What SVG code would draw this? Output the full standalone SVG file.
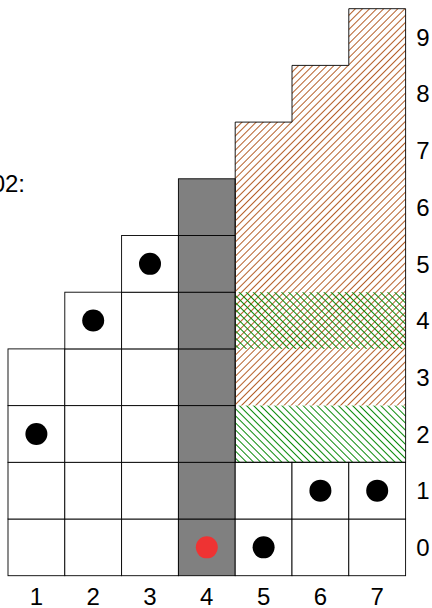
<svg xmlns="http://www.w3.org/2000/svg" width="432" height="608" viewBox="0 0 432 608">
<defs>
<style>
.cell{fill:#fff;stroke:#000;stroke-width:0.9}
.g{fill:#808080;stroke:#000;stroke-width:0.9}
.outline{fill:none;stroke:#000;stroke-width:0.9}
.dot{fill:#000}
.red{fill:#ee3333}
.lab{font-family:"Liberation Sans",Arial,sans-serif;font-size:24px;fill:#000;text-anchor:middle}
</style>
<pattern id="ne" patternUnits="userSpaceOnUse" width="5" height="5" patternTransform="rotate(45)">
<line x1="2.5" y1="-1" x2="2.5" y2="6" stroke="#b5602a" stroke-width="1"/>
</pattern>
<pattern id="nw" patternUnits="userSpaceOnUse" width="5" height="5" patternTransform="rotate(-45)">
<line x1="2.5" y1="-1" x2="2.5" y2="6" stroke="#0a8a0a" stroke-width="1"/>
</pattern>
</defs>
<rect width="432" height="608" fill="#fff"/>

<g id="col1">
<rect class="cell" x="8" y="519" width="56.8" height="56.7"/>
<rect class="cell" x="8" y="462.3" width="56.8" height="56.7"/>
<rect class="cell" x="8" y="405.6" width="56.8" height="56.7"/>
<rect class="cell" x="8" y="348.9" width="56.8" height="56.7"/>
<circle class="dot" cx="36.4" cy="433.95" r="11"/>
</g>
<g id="col2">
<rect class="cell" x="64.8" y="519" width="56.8" height="56.7"/>
<rect class="cell" x="64.8" y="462.3" width="56.8" height="56.7"/>
<rect class="cell" x="64.8" y="405.6" width="56.8" height="56.7"/>
<rect class="cell" x="64.8" y="348.9" width="56.8" height="56.7"/>
<rect class="cell" x="64.8" y="292.2" width="56.8" height="56.7"/>
<circle class="dot" cx="93.2" cy="320.55" r="11"/>
</g>
<g id="col3">
<rect class="cell" x="121.6" y="519" width="56.8" height="56.7"/>
<rect class="cell" x="121.6" y="462.3" width="56.8" height="56.7"/>
<rect class="cell" x="121.6" y="405.6" width="56.8" height="56.7"/>
<rect class="cell" x="121.6" y="348.9" width="56.8" height="56.7"/>
<rect class="cell" x="121.6" y="292.2" width="56.8" height="56.7"/>
<rect class="cell" x="121.6" y="235.5" width="56.8" height="56.7"/>
<circle class="dot" cx="150" cy="263.85" r="11"/>
</g>
<g id="col4">
<rect class="g" x="178.4" y="519" width="56.8" height="56.7"/>
<rect class="g" x="178.4" y="462.3" width="56.8" height="56.7"/>
<rect class="g" x="178.4" y="405.6" width="56.8" height="56.7"/>
<rect class="g" x="178.4" y="348.9" width="56.8" height="56.7"/>
<rect class="g" x="178.4" y="292.2" width="56.8" height="56.7"/>
<rect class="g" x="178.4" y="235.5" width="56.8" height="56.7"/>
<rect class="g" x="178.4" y="178.8" width="56.8" height="56.7"/>
<circle class="red" cx="206.8" cy="547.35" r="11"/>
</g>
<g id="cols567-base">
<rect class="cell" x="235.2" y="519" width="56.8" height="56.7"/>
<rect class="cell" x="235.2" y="462.3" width="56.8" height="56.7"/>
<rect class="cell" x="292" y="519" width="56.8" height="56.7"/>
<rect class="cell" x="292" y="462.3" width="56.8" height="56.7"/>
<rect class="cell" x="348.8" y="519" width="56.8" height="56.7"/>
<rect class="cell" x="348.8" y="462.3" width="56.8" height="56.7"/>
<circle class="dot" cx="263.6" cy="547.35" r="11"/>
<circle class="dot" cx="320.4" cy="490.65" r="11"/>
<circle class="dot" cx="377.2" cy="490.65" r="11"/>
</g>
<g id="hatched">
<polygon fill="url(#ne)" points="235.2,405.6 405.6,405.6 405.6,8.7 348.8,8.7 348.8,65.4 292,65.4 292,122.1 235.2,122.1"/>
<rect fill="url(#nw)" x="235.2" y="405.6" width="170.4" height="56.7"/>
<rect fill="url(#nw)" x="235.2" y="292.2" width="170.4" height="56.7"/>
<polygon class="outline" points="235.2,462.3 405.6,462.3 405.6,8.7 348.8,8.7 348.8,65.4 292,65.4 292,122.1 235.2,122.1"/>
</g>

<g id="xlabels">
<text class="lab" x="36.4" y="605">1</text>
<text class="lab" x="93.2" y="605">2</text>
<text class="lab" x="150" y="605">3</text>
<text class="lab" x="206.8" y="605">4</text>
<text class="lab" x="263.6" y="605">5</text>
<text class="lab" x="320.4" y="605">6</text>
<text class="lab" x="377.2" y="605">7</text>
</g>
<g id="ylabels">
<text class="lab" x="423" y="556">0</text>
<text class="lab" x="423" y="499.3">1</text>
<text class="lab" x="423" y="442.6">2</text>
<text class="lab" x="423" y="385.9">3</text>
<text class="lab" x="423" y="329.2">4</text>
<text class="lab" x="423" y="272.5">5</text>
<text class="lab" x="423" y="215.8">6</text>
<text class="lab" x="423" y="159.1">7</text>
<text class="lab" x="423" y="102.4">8</text>
<text class="lab" x="423" y="45.7">9</text>
</g>
<text class="lab" x="25" y="192" style="text-anchor:end">02:</text>
</svg>
